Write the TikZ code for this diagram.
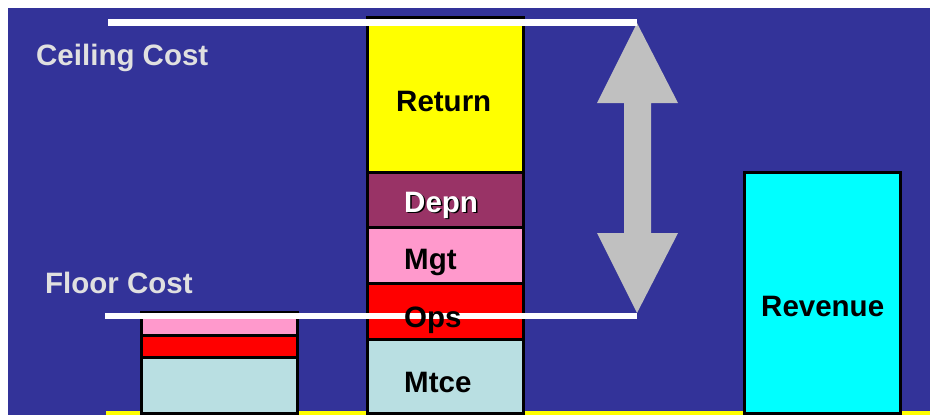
\documentclass[tikz,border=0pt]{standalone}
\usepackage{fontspec}
\setmainfont{Liberation Sans}
\definecolor{bg}{RGB}{51,51,153}
\definecolor{depn}{RGB}{153,51,102}
\definecolor{mgt}{RGB}{255,153,204}
\definecolor{mtce}{RGB}{185,223,226}
\definecolor{arrowgray}{RGB}{192,192,192}
\definecolor{captext}{RGB}{224,224,224}
\definecolor{pureyellow}{RGB}{255,255,0}
\definecolor{purecyan}{RGB}{0,255,255}
\definecolor{purered}{RGB}{255,0,0}
\begin{document}
\begin{tikzpicture}[x=1pt,y=-1pt,
  seg/.style={draw=black, line width=3pt, anchor=north west, inner sep=0pt, outer sep=0pt, minimum width=156pt},
  lbl/.style={font=\fontsize{29.5}{30}\selectfont\bfseries, inner sep=0pt, anchor=base west},
  costline/.style={draw=white, line width=6.5pt},
]
\useasboundingbox (0,0) rectangle (930,415);
\fill[white] (0,0) rectangle (930,415);
\fill[bg] (8,8) rectangle (930,415);
\fill[pureyellow] (106,411) rectangle (930,415);

% middle stack
\node[seg, fill=pureyellow, minimum height=155pt] (ret) at (367.5,17) {};
\node[seg, fill=depn, minimum height=55.5pt] (dep) at (367.5,172) {};
\node[seg, fill=mgt, minimum height=55.5pt] (mg) at (367.5,227.5) {};
\node[seg, fill=purered, minimum height=56pt] (op) at (367.5,283) {};
\node[seg, fill=mtce, minimum height=74pt] (mt) at (367.5,339) {};

% left stack
\node[seg, fill=mgt, minimum height=22.5pt] (lmg) at (141.5,312.5) {};
\node[seg, fill=purered, minimum height=22pt] (lop) at (141.5,335) {};
\node[seg, fill=mtce, minimum height=56pt] (lmt) at (141.5,357) {};

% revenue
\node[seg, fill=purecyan, minimum height=241pt] (rev) at (744.5,172) {};

% double arrow
\fill[arrowgray] (637,23) -- (678,103) -- (651,103) -- (651,233) -- (678,233)
  -- (637,313) -- (597,233) -- (624,233) -- (624,103) -- (597,103) -- cycle;

% cost lines
\coordinate (c1) at (108,22.5);
\coordinate (c2) at (637,22.5);
\coordinate (f1) at (105,316);
\coordinate (f2) at (637,316);
\draw[costline] (c1) -- (c2);
\draw[costline] (f1) -- (f2);

% labels
\node[lbl] (tret) at (396,111) {Return};
\node[lbl, text=black] (tdeps) at (405.5,213.5) {Depn};
\node[lbl, text=white] (tdep) at (404,212) {Depn};
\node[lbl] (tmg) at (404,269) {Mgt};
\node[lbl] (top) at (404,327) {Ops};
\node[lbl] (tmt) at (404,392) {Mtce};
\node[lbl] (trev) at (761,316) {Revenue};
\node[lbl, text=captext] (tceil) at (36,65) {Ceiling Cost};
\node[lbl, text=captext] (tfloor) at (45,293) {Floor Cost};
\end{tikzpicture}
\end{document}
